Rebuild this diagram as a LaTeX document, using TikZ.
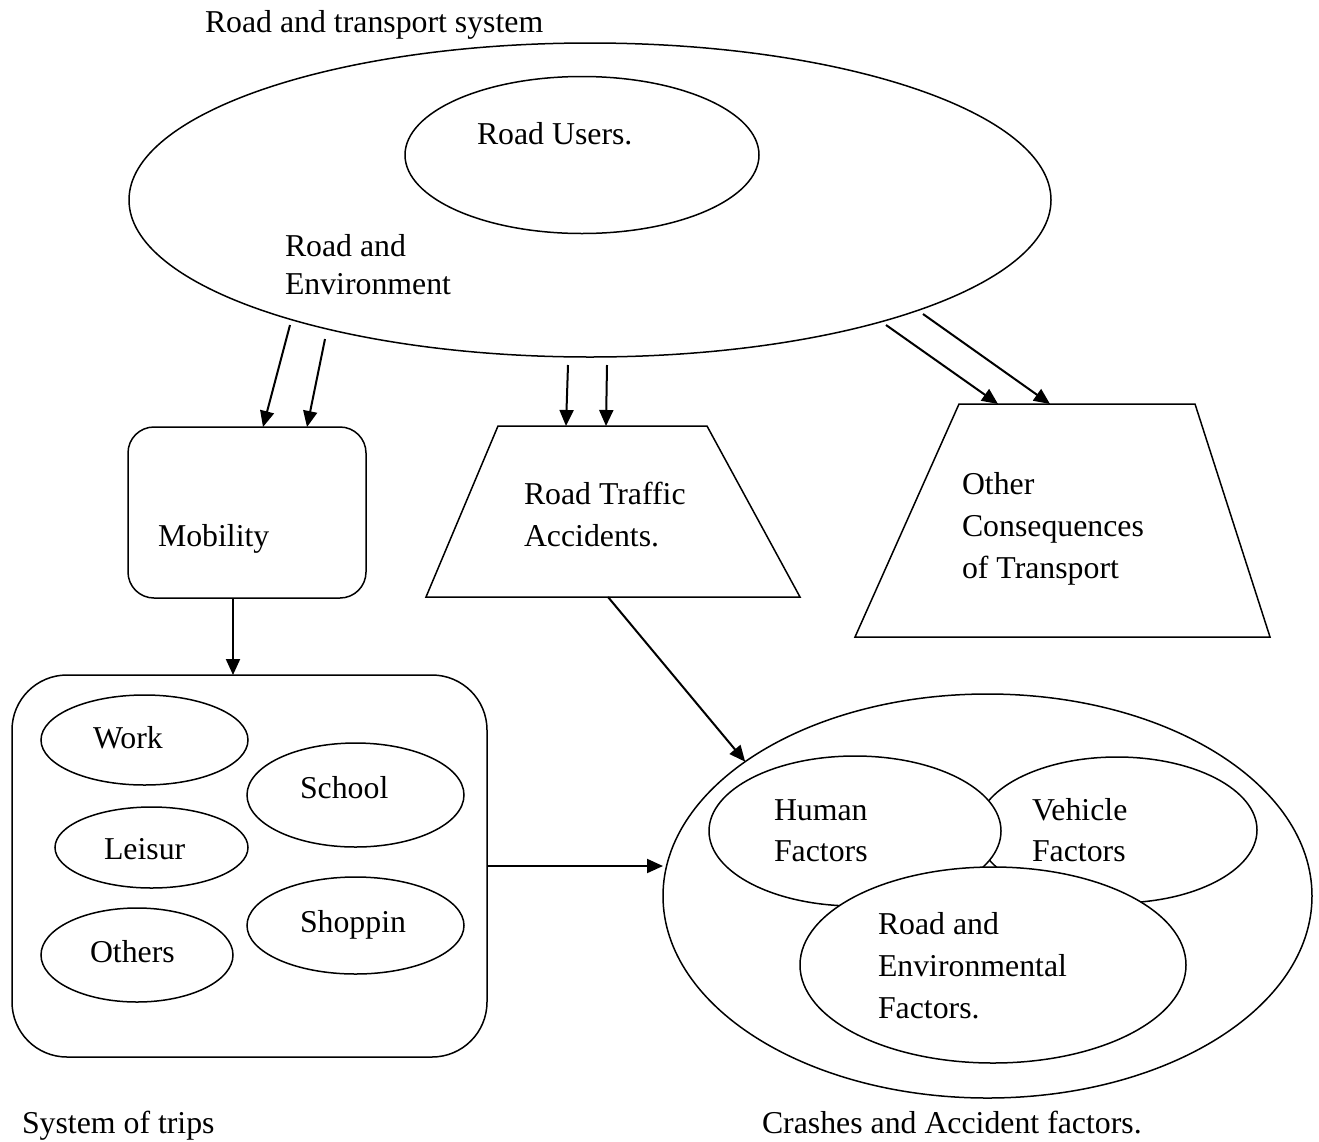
\documentclass[tikz,border=0pt]{standalone}
\usepackage{fontspec}
\setmainfont{Liberation Serif}
\usetikzlibrary{arrows.meta,shapes.geometric,calc}

\begin{document}
\begin{tikzpicture}[
  x=1pt,
  y=-1pt,
  inner sep=0pt,
  outer sep=0pt,
  line width=1.5pt,
  font=\fontsize{31.8}{42}\selectfont,
  oval/.style={draw, ellipse, fill=white},
  roundbox/.style={draw, rounded corners=#1},
  lbl/.style={anchor=base west, align=left},
  >={Triangle[length=16pt, width=14pt]},
]
  \useasboundingbox (0, 0) rectangle (1319, 1141);

  % road and transport system
  \node[lbl] (title) at (205, 32) {Road and transport system};
  \node[oval, minimum width=922, minimum height=314] (sys) at (590, 200) {};
  \node[oval, minimum width=354, minimum height=157] (users) at (582, 155) {};
  \node[lbl] (userstxt) at (477, 144) {Road Users.};
  \node[lbl] (envtxt) at (285, 294) {Road and\\[-4pt]Environment};

  % the three outcomes
  \node[roundbox=26, minimum width=238, minimum height=171] (mob) at (247, 512.5) {};
  \node[lbl] (mobtxt) at (158, 546) {Mobility};
  \draw
    (498, 426) coordinate (rta-nw) -- (707, 426) coordinate (rta-ne)
    -- (800, 597) coordinate (rta-se) -- (426, 597) coordinate (rta-sw) -- cycle
  ;
  \node[lbl] (rtatxt) at (524, 546) {Road Traffic\\Accidents.};
  \draw
    (959, 404) coordinate (oth-nw) -- (1195, 404) coordinate (oth-ne)
    -- (1270, 637) coordinate (oth-se) -- (855, 637) coordinate (oth-sw) -- cycle
  ;
  \node[lbl] (othtxt) at (962, 578) {Other\\Consequences\\of Transport};

  % system of trips
  \node[roundbox=55, minimum width=475, minimum height=382] (trips) at (249.5, 866) {};
  \foreach \name/\x/\y/\w/\h in {
    work/144.5/740/207/90,
    school/355.5/795/217/104,
    leisure/151.5/847.5/193/81,
    shop/355.5/925.5/217/97,
    others/137/955/192/94%
  } {
    \node[oval, minimum width=\w, minimum height=\h] (\name) at (\x, \y) {};
  }
  \foreach \name/\x/\y/\code in {
    worktxt/93/748/Work,
    schooltxt/300/798/School,
    leisuretxt/104/859/Leisur,
    shoptxt/300/932/Shoppin,
    otherstxt/90/962/Others%
  } {
    \node[lbl] (\name) at (\x, \y) {\code};
  }
  \node[lbl] (tripstxt) at (22, 1133) {System of trips};

  % crashes and accident factors
  \node[oval, minimum width=649, minimum height=404] (crash) at (987.5, 896) {};
  \node[oval, minimum width=280, minimum height=146] (veh) at (1117, 830) {};
  \node[oval, minimum width=292, minimum height=150] (hum) at (855, 831) {};
  \node[oval, minimum width=386, minimum height=196] (road) at (993, 965) {};
  \node[lbl] (humtxt) at (774, 861) {Human\\[-1pt]Factors};
  \node[lbl] (vehtxt) at (1032, 861) {Vehicle\\[-1pt]Factors};
  \node[lbl] (roadtxt) at (878, 1018) {Road and\\Environmental\\Factors.};
  \node[lbl] (crashtxt) at (762, 1133) {Crashes and Accident factors.};

  \begin{scope}[line width=2pt]
    \coordinate (t1) at (290, 325);
    \coordinate (t2) at (325, 339);
    \coordinate (t3) at (568, 365);
    \coordinate (t4) at (607, 365);
    \coordinate (t5) at (886, 325);
    \coordinate (t6) at (923, 314);
    \coordinate (h1) at ($(mob.north west)+(135, 0)$);
    \coordinate (h2) at ($(mob.north west)+(179, 0)$);
    \coordinate (h3) at ($(rta-nw)+(68, 0)$);
    \coordinate (h4) at ($(rta-nw)+(108, 0)$);
    \coordinate (h5) at ($(oth-nw)+(39, 0)$);
    \coordinate (h6) at ($(oth-nw)+(91, 0)$);
    \foreach \from/\to in {t1/h1, t2/h2, t3/h3, t4/h4, t5/h5, t6/h6} {
      \draw[->] (\from) -- (\to);
    }
    \draw[->] ($(mob.south west)+(105, 0)$) coordinate (t7) -- (t7 |- trips.north);
    \draw[->] ($(rta-sw)+(182, 0)$) -- (crash.151.5);
    \draw[->] (trips.east) -- (trips.east -| crash.west);
  \end{scope}
\end{tikzpicture}
\end{document}
